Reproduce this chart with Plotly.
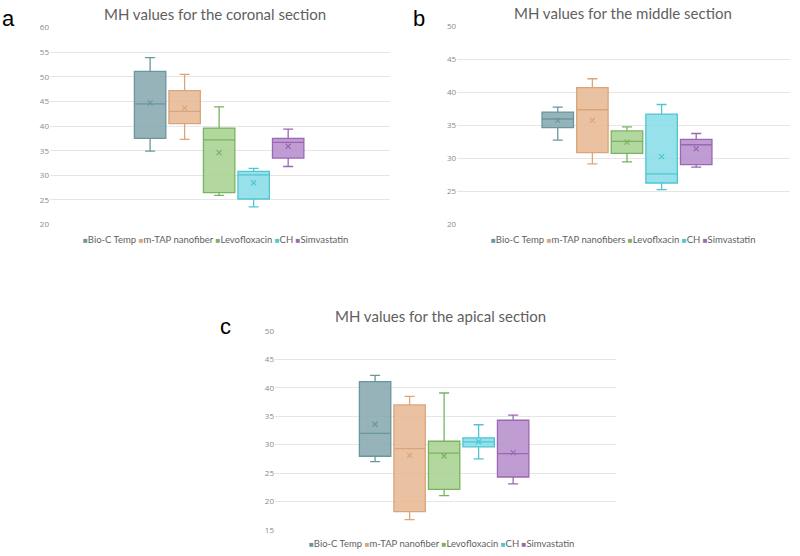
import plotly.graph_objects as go
import numpy as np

groups_a = ["Bio-C Temp", "m-TAP nanofiber", "Levofloxacin", "CH", "Simvastatin"]
groups_b = ["Bio-C Temp", "m-TAP nanofibers", "Levoflxacin", "CH", "Simvastatin"]
groups_c = ["Bio-C Temp", "m-TAP nanofiber", "Levofloxacin", "CH", "Simvastatin"]

# coronal section
a_low = [34.9, 37.3, 25.95, 23.6, 31.8]
a_q1 = [37.5, 40.5, 26.5, 25.2, 33.5]
a_med = [44.5, 43.0, 37.2, 30.1, 36.7]
a_q3 = [51.1, 47.2, 39.6, 30.8, 37.5]
a_high = [53.9, 50.5, 43.9, 31.4, 39.4]
a_mean = [44.7, 43.7, 34.6, 28.5, 35.9]

# middle section
b_low = [32.8, 29.2, 29.5, 25.3, 28.7]
b_q1 = [34.7, 30.9, 30.8, 26.3, 29.1]
b_med = [36.0, 37.4, 32.6, 27.7, 32.1]
b_q3 = [37.05, 40.75, 34.2, 36.75, 32.9]
b_high = [37.8, 42.1, 34.8, 38.2, 33.8]
b_mean = [35.8, 35.8, 32.5, 30.3, 31.5]

# apical section
c_low = [27.0, 16.8, 21.0, 27.5, 23.1]
c_q1 = [27.95, 18.2, 22.1, 29.6, 24.3]
c_med = [32.0, 29.3, 28.5, 30.5, 28.4]
c_q3 = [41.1, 37.0, 30.6, 31.2, 34.3]
c_high = [42.2, 38.5, 39.1, 33.5, 35.2]
c_mean = [33.6, 28.1, 28.0, 30.5, 28.6]

line_colors = ["#6a969e", "#dba57c", "#79b35f", "#4fc6d3", "#9a67b4"]
fill_colors = ["rgba(130,166,173,0.85)", "rgba(230,182,144,0.85)", "rgba(164,208,142,0.85)",
               "rgba(132,220,230,0.85)", "rgba(180,140,203,0.85)"]

fig = go.Figure()

panels = [
    ("x", "y", groups_a, a_low, a_q1, a_med, a_q3, a_high, a_mean),
    ("x2", "y2", groups_b, b_low, b_q1, b_med, b_q3, b_high, b_mean),
    ("x3", "y3", groups_c, c_low, c_q1, c_med, c_q3, c_high, c_mean),
]

for xa, ya, names, lo, q1, med, q3, hi, mn in panels:
    pos = np.arange(len(names))
    for i, name in enumerate(names):
        fig.add_trace(go.Box(
            x=[pos[i]], q1=[q1[i]], median=[med[i]], q3=[q3[i]],
            lowerfence=[lo[i]], upperfence=[hi[i]],
            width=0.91, whiskerwidth=0.32,
            fillcolor=fill_colors[i], line=dict(color=line_colors[i], width=1.3),
            name=name, showlegend=False, xaxis=xa, yaxis=ya, hoverinfo="skip",
        ))
        fig.add_trace(go.Scatter(
            x=[pos[i]], y=[mn[i]], mode="markers",
            marker=dict(symbol="x-thin", size=5, line=dict(color=line_colors[i], width=1.2)),
            showlegend=False, xaxis=xa, yaxis=ya, hoverinfo="skip",
        ))

grid = "#e6e6e6"
tickfont = dict(family="Open Sans", size=8, color="#8a8a8a")

def yax(domain, rng, anchor):
    return dict(domain=domain, range=rng, dtick=5, showgrid=True, gridcolor=grid, gridwidth=1,
                zeroline=False, showline=False, ticks="", tickfont=tickfont, fixedrange=True,
                anchor=anchor)

def xax(domain, rng, anchor):
    return dict(domain=domain, range=rng, showgrid=False, zeroline=False, showline=False,
                showticklabels=False, ticks="", anchor=anchor)

fig.update_layout(
    width=800, height=556, margin=dict(l=0, r=0, t=0, b=0),
    paper_bgcolor="white", plot_bgcolor="white",
    xaxis=xax([0.0625, 0.4875], [-2.9, 6.95], "y"),
    yaxis=yax([0.5989, 0.9604], [20, 60], "x"),
    xaxis2=xax([0.5713, 0.9875], [-2.91, 6.71], "y2"),
    yaxis2=yax([0.5989, 0.9622], [20, 50], "x2"),
    xaxis3=xax([0.34375, 0.77], [-2.9, 6.98], "y3"),
    yaxis3=yax([0.039, 0.4034], [15, 50], "x3"),
)

titles = [("MH values for the coronal section", 215, 8),
          ("MH values for the middle section", 623, 7),
          ("MH values for the apical section", 440, 316)]
for t, xp, yp in titles:
    fig.add_annotation(text=t, x=xp / 800, y=1 - yp / 556, xref="paper", yref="paper",
                       showarrow=False, xanchor="center", yanchor="middle",
                       font=dict(family="Lato", size=15, color="#5f5f5f"))

labels = [("a", 8, 13), ("b", 419, 13), ("c", 225, 327)]
for t, xp, yp in labels:
    fig.add_annotation(text=t, x=xp / 800, y=1 - yp / 556, xref="paper", yref="paper",
                       showarrow=False, xanchor="center", yanchor="middle",
                       font=dict(family="Liberation Sans", size=22, color="black"))

legends = [(groups_a, 215, 238), (groups_b, 623, 238), (groups_c, 441, 548)]
for names, xp, yp in legends:
    parts = [f"<span style='color:{line_colors[i]};font-size:8px'>■</span>{n}" for i, n in enumerate(names)]
    fig.add_annotation(text=" ".join(parts), x=xp / 800, y=1 - yp / 556, xref="paper", yref="paper",
                       showarrow=False, xanchor="center", yanchor="middle",
                       font=dict(family="Lato", size=9.5, color="#5f5f5f"))

fig.write_html("out.html")
